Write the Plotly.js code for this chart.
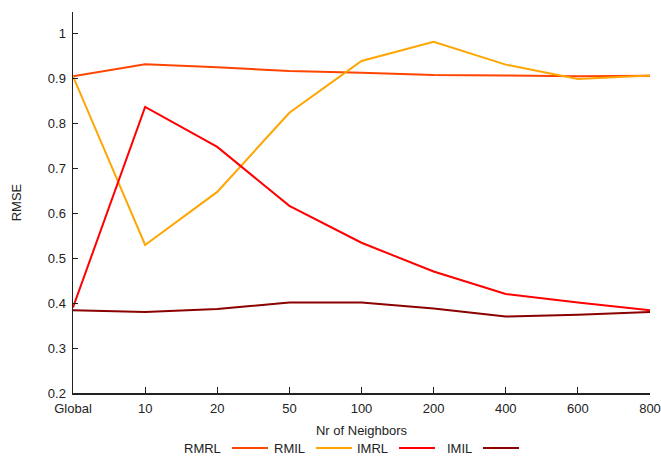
<!DOCTYPE html>
<html>
<head>
<meta charset="utf-8">
<script src="https://cdn.plot.ly/plotly-3.0.1.min.js"></script>
<style>
  html, body { margin: 0; padding: 0; background: #fff; }
  #chart { width: 661px; height: 459px; }
</style>
</head>
<body>
<div id="chart"></div>
<script>
// Neighbourhood sizes on the x axis
const neighbors = ["Global", "10", "20", "50", "100", "200", "400", "600", "800"];

// RMSE per configuration
const rmrl = [0.904, 0.931, 0.924, 0.916, 0.912, 0.907, 0.906, 0.904, 0.905];
const rmil = [0.904, 0.529, 0.647, 0.823, 0.938, 0.981, 0.930, 0.898, 0.906];
const imrl = [0.390, 0.836, 0.747, 0.616, 0.534, 0.470, 0.420, 0.401, 0.384];
const imil = [0.384, 0.380, 0.387, 0.401, 0.401, 0.388, 0.370, 0.374, 0.380];

const seriesNames = ["RMRL", "RMIL", "IMRL", "IMIL"];
const seriesValues = [rmrl, rmil, imrl, imil];
const seriesColors = ["#ff4500", "#ffa500", "#ff0000", "#8b0000"];

const W = 661, H = 459;
const M = { l: 73, r: 11, t: 12, b: 66 };
const PW = W - M.l - M.r, PH = H - M.t - M.b;
const FONT = "Liberation Sans, Arial, sans-serif";

const traces = seriesNames.map((name, i) => ({
  type: "scatter",
  mode: "lines",
  name: name,
  x: neighbors,
  y: seriesValues[i],
  line: { color: seriesColors[i], width: 2 },
  showlegend: false,
  cliponaxis: false
}));

// Key along the bottom: label first, then a short line sample
const px = x => (x - M.l) / PW;
const py = y => (M.t + PH - y) / PH;
const keyTextRight = [223, 307, 390, 474];
const keyY = 448;
const annotations = [];
const shapes = [];
seriesNames.forEach((name, i) => {
  annotations.push({
    xref: "paper", yref: "paper",
    x: px(keyTextRight[i]), y: py(keyY),
    xanchor: "right", yanchor: "middle",
    text: name, showarrow: false,
    font: { family: FONT, size: 13, color: "#222" }
  });
  shapes.push({
    type: "line", xref: "paper", yref: "paper",
    x0: px(keyTextRight[i] + 9), x1: px(keyTextRight[i] + 45),
    y0: py(keyY), y1: py(keyY),
    line: { color: seriesColors[i], width: 2 }
  });
});

const layout = {
  width: W, height: H,
  margin: M,
  paper_bgcolor: "#fff",
  plot_bgcolor: "#fff",
  font: { family: FONT, size: 13, color: "#222" },
  xaxis: {
    type: "category",
    range: [0, neighbors.length - 1],
    showgrid: false, zeroline: false,
    showline: true, linecolor: "#222", linewidth: 1.5,
    ticks: "inside", ticklen: 6, tickcolor: "#222", tickwidth: 1,
    ticklabelstandoff: 3,
    tickfont: { family: FONT, size: 13, color: "#222" },
    title: { text: "Nr of Neighbors", font: { family: FONT, size: 13, color: "#222" }, standoff: 11 },
    automargin: false
  },
  yaxis: {
    range: [0.2, 1.047],
    dtick: 0.1, tick0: 0.2,
    showgrid: false, zeroline: false,
    showline: true, linecolor: "#222", linewidth: 1.5,
    ticks: "inside", ticklen: 5, tickcolor: "#222", tickwidth: 1,
    ticklabelstandoff: 3,
    tickfont: { family: FONT, size: 13, color: "#222" },
    title: { text: "RMSE", font: { family: FONT, size: 13, color: "#222" }, standoff: 23 },
    automargin: false
  },
  annotations: annotations,
  shapes: shapes
};

Plotly.newPlot("chart", traces, layout, { staticPlot: true, displayModeBar: false });
</script>
</body>
</html>
